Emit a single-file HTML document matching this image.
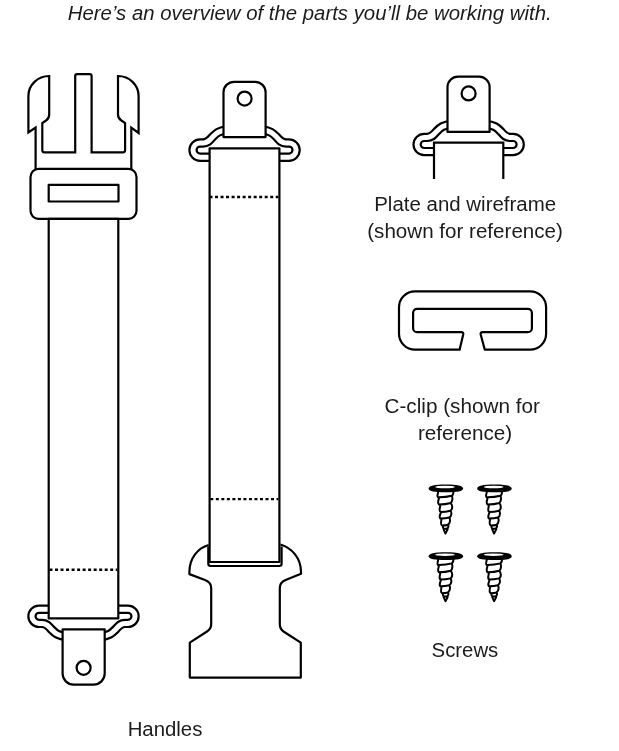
<!DOCTYPE html>
<html><head><meta charset="utf-8">
<style>
html,body{margin:0;padding:0;background:#fff;width:619px;height:751px;overflow:hidden;}
svg{position:absolute;left:0;top:0;display:block;will-change:transform;}
text{font-family:"Liberation Sans",sans-serif;fill:#1c1c1c;}
</style></head><body>
<svg width="619" height="751" viewBox="0 0 619 751">
<defs>
  <!-- wire loop centerline, left side (for top-style plates) -->
  <g id="wireL">
    <path d="M 227 130.3 C 219 130.3, 216 133.5, 212.5 137 C 209.5 140.5, 207.5 143, 203 143 H 200.1 A 7.1 7.1 0 0 0 193 150.1 A 7.1 7.1 0 0 0 200.1 157.2 H 213" fill="none" stroke="#000" stroke-width="9.4"/>
    <path d="M 227 130.3 C 219 130.3, 216 133.5, 212.5 137 C 209.5 140.5, 207.5 143, 203 143 H 200.1 A 7.1 7.1 0 0 0 193 150.1 A 7.1 7.1 0 0 0 200.1 157.2 H 213" fill="none" stroke="#fff" stroke-width="5.0"/>
  </g>
  <g id="screw">
    <path d="M -7.6 2.5 C -7.6 5.5, -9.3 7.6, -7.9 8.8 Q 0 8.9 5.9 7.3 M 7.6 2.5 C 7.6 5, 7.5 6.5, 5.9 7.3
    M -6.8 9.3 C -7.2 11.5, -8.9 14.8, -6.8 16.2 Q 0 16.1 4.8 14.6 M 5.9 7.3 C 6.8 9, 7 13, 4.8 14.6
    M -5.5 16.9 C -5.8 19, -7.3 22.2, -5.3 23.5 Q 0 23.5 4.5 22.3 M 4.8 14.6 C 6.5 16, 7.3 21, 4.5 22.3
    M -5 24.2 C -5.5 26, -7.3 29, -5.4 30.2 Q 0 30.2 3.4 29.1 M 4.5 22.3 C 5.8 23.5, 6.3 27.5, 3.4 29.1
    M -4.3 30.9 C -4.8 33, -5.2 36.3, -3.8 37.1 Q 0 37.1 2.1 36.3 M 3.4 29.1 C 4.4 30.5, 4.8 34.6, 2.1 36.3
    M -3 37.7 C -3 39, -2.6 40.3, -1.7 40.5 L 1.3 40.1 M 2.1 36.3 C 2.8 37.2, 2.9 39.3, 1.3 40.1
    M -2.2 41 L -0.4 45.1 L 1.8 41" fill="none" stroke="#000" stroke-width="2" stroke-linecap="round" stroke-linejoin="round"/>
    <path d="M -17.2 0.2 C -17.2 -2.7, -11.5 -3.8, 0 -3.8 C 11.5 -3.8, 17.2 -2.7, 17.2 0.2 C 17.2 3.1, 11.5 3.9, 0 3.9 C -11.5 3.9, -17.2 3.1, -17.2 0.2 Z" fill="#000"/>
    <ellipse cx="-0.8" cy="-1.4" rx="9.9" ry="1.25" fill="#fff"/>
  </g>
</defs>

<g fill="none" stroke="#000" stroke-width="2.2" stroke-linejoin="round">

<!-- ============ LEFT HANDLE ============ -->
<path stroke-linejoin="miter" stroke-miterlimit="3" d="M 35.6 170 V 127.6 L 28.4 132.5 V 96 A 20.8 20 0 0 1 49.2 76 V 114.5 Q 49.2 118.5 46 120.5 L 42.3 123 V 150.3 Q 42.3 152.3 44.3 152.3 H 75.2 V 76 Q 75.2 74.1 77.2 74.1 H 89.6 Q 91.6 74.1 91.6 76 V 152.3 H 123.1 Q 125.1 152.3 125.1 150.3 V 123 L 121.4 120.5 Q 118 118.5 118 114.5 V 76 A 20.6 20 0 0 1 138.6 96 V 133 L 131.3 127.6 V 170"/>
<rect x="30.5" y="168.9" width="106" height="49.9" rx="8" fill="#fff"/>
<rect x="48.7" y="184.9" width="69.8" height="16.6"/>

<!-- wire bottom-left -->
<use href="#wireL" transform="translate(-161.05,766.4) scale(1,-1)"/>
<use href="#wireL" transform="translate(328.05,766.4) scale(-1,-1)"/>
<rect x="48.7" y="218.8" width="69.6" height="399.6" fill="#fff"/>
<line x1="49.5" y1="569.7" x2="117.2" y2="569.7" stroke-dasharray="3 2.52" stroke-width="2.4"/>
<path d="M 62.6 629.3 H 104.7 V 673.6 A 11 11 0 0 1 93.7 684.6 H 73.6 A 11 11 0 0 1 62.6 673.6 Z" fill="#fff"/>
<circle cx="83.6" cy="667.8" r="7"/>

<!-- ============ MIDDLE HANDLE ============ -->
<use href="#wireL"/>
<use href="#wireL" transform="translate(489.1,0) scale(-1,1)"/>
<path d="M 223.5 137.1 V 92.3 A 10.5 10.5 0 0 1 234 81.8 H 255.1 A 10.5 10.5 0 0 1 265.6 92.3 V 137.1 Z" fill="#fff"/>
<circle cx="244.6" cy="98.6" r="7"/>

<!-- buckle -->
<path d="M 208.7 545 C 198 548, 189.4 558, 189.4 572 V 574.1 L 205 580 Q 211.2 582.5 211.2 588 V 624 Q 211.2 629 207 631.5 L 189.8 642.6 V 677.6 H 300.8 V 642.6 L 283.5 631.5 Q 279.8 629 279.8 624 V 588 Q 279.8 582.5 285.6 580 L 301 573.8 V 572 C 301 558, 292 548, 280.4 544.5" fill="#fff"/>
<path d="M 208.3 546.5 V 563.8 Q 208.3 566 210.5 566 H 279.4 Q 281.6 566 281.6 563.8 V 546.5" fill="#fff"/>
<rect x="209.6" y="148.3" width="69.8" height="413.7" fill="#fff"/>
<line x1="209.5" y1="196.95" x2="278.3" y2="196.95" stroke-dasharray="3 2.52" stroke-width="2.4"/>
<line x1="210.3" y1="499.1" x2="278.3" y2="499.1" stroke-dasharray="3 2.52" stroke-width="2.4"/>

<!-- ============ RIGHT: PLATE & WIREFRAME ============ -->
<g transform="translate(224.1,-5.6)">
  <use href="#wireL"/>
  <use href="#wireL" transform="translate(489.1,0) scale(-1,1)"/>
</g>
<path d="M 447.5 131.9 V 87.1 A 10.5 10.5 0 0 1 458 76.6 H 479.1 A 10.5 10.5 0 0 1 489.6 87.1 V 131.9 Z" fill="#fff"/>
<circle cx="468.6" cy="93.4" r="7"/>
<path d="M 434 179 V 142.7 H 503.3 V 179" fill="#fff" stroke-linejoin="miter"/>

<!-- C-clip -->
<path d="M 459.6 349.7 H 415 A 16 16 0 0 1 399 333.7 V 307.4 A 16 16 0 0 1 415 291.4 H 530.1 A 16 16 0 0 1 546.1 307.4 V 333.7 A 16 16 0 0 1 530.1 349.7 H 484.8 L 480.7 334.5 Q 480.3 332.2 482.5 332.2 H 527.9 A 4 4 0 0 0 531.9 328.2 V 312.9 A 4 4 0 0 0 527.9 308.9 H 417.1 A 4 4 0 0 0 413.1 312.9 V 328.2 A 4 4 0 0 0 417.1 332.2 H 461.4 Q 463.6 332.2 463.2 334.5 Z"/>
</g>

<!-- screws -->
<use href="#screw" transform="translate(445.85,488.4)"/>
<use href="#screw" transform="translate(494.45,488.4)"/>
<use href="#screw" transform="translate(445.85,556.1)"/>
<use href="#screw" transform="translate(494.45,556.1)"/>

<!-- text -->
<text x="67.83" y="19.90" font-size="19.6" font-style="italic" textLength="483.83" lengthAdjust="spacingAndGlyphs">Here’s an overview of the parts you’ll be working with.</text>
<text x="374.23" y="211.20" font-size="19.6" textLength="181.89" lengthAdjust="spacingAndGlyphs">Plate and wireframe</text>
<text x="367.24" y="238.20" font-size="19.6" textLength="195.65" lengthAdjust="spacingAndGlyphs">(shown for reference)</text>
<text x="384.47" y="413.00" font-size="19.6" textLength="155.51" lengthAdjust="spacingAndGlyphs">C-clip (shown for</text>
<text x="417.99" y="439.70" font-size="19.6" textLength="94.25" lengthAdjust="spacingAndGlyphs">reference)</text>
<text x="431.57" y="657.10" font-size="19.6" textLength="66.75" lengthAdjust="spacingAndGlyphs">Screws</text>
<text x="127.68" y="736.20" font-size="19.6" textLength="74.68" lengthAdjust="spacingAndGlyphs">Handles</text>
</svg>
</body></html>
